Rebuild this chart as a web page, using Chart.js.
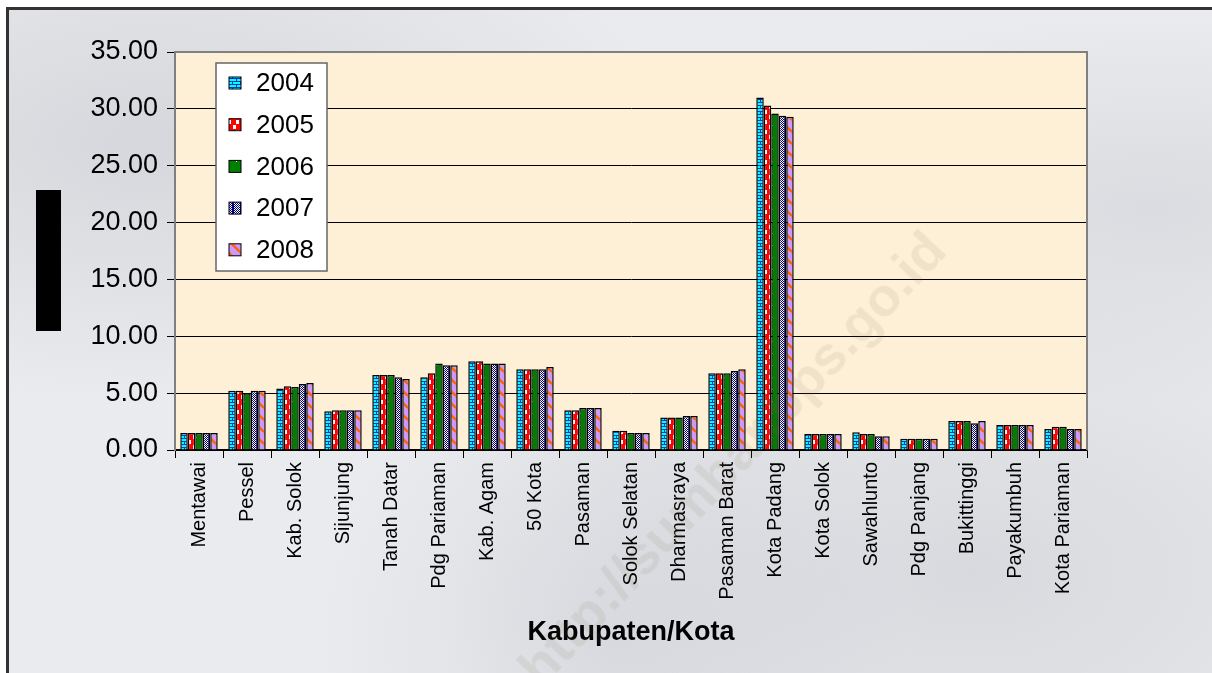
<!DOCTYPE html>
<html lang="id">
<head>
    <meta charset="UTF-8">
    <title>Kabupaten/Kota 2004-2008</title>
    <style>
        * { margin: 0; padding: 0; box-sizing: border-box; }

        body {
            width: 1212px;
            height: 673px;
            background: #fff;
            font-family: "Liberation Sans", Arial, sans-serif;
            overflow: hidden;
        }

        /* marble-like backdrop with a dark frame on top and left */
        .frame {
            position: absolute;
            left: 6px; top: 7px; right: 0; bottom: 0;
            border-top: 3px solid #333;
            border-left: 3px solid #333;
            background:
                radial-gradient(ellipse at 12% 20%, rgba(150,155,165,0.25), transparent 35%),
                radial-gradient(ellipse at 80% 85%, rgba(150,155,165,0.22), transparent 40%),
                radial-gradient(ellipse at 50% 95%, rgba(170,175,185,0.22), transparent 35%),
                radial-gradient(ellipse at 95% 30%, rgba(160,165,175,0.22), transparent 30%),
                #eaebee;
        }

        .chart-box {
            position: absolute;
            left: 0; top: 0;
            width: 1212px;
            height: 673px;
        }

        /* blacked-out y axis title */
        .redact {
            position: absolute;
            left: 36px; top: 190px;
            width: 25px; height: 141px;
            background: #000;
        }

        .watermark {
            position: absolute;
            left: 505px; top: 655px;
            font: bold 54px "Liberation Sans", Arial, sans-serif;
            color: rgba(130, 105, 80, 0.10);
            transform: rotate(-47deg);
            transform-origin: 0 0;
            white-space: nowrap;
            pointer-events: none;
        }
    </style>
</head>
<body>
    <div class="frame"></div>
    <div class="redact"></div>
    <div class="chart-box">
        <canvas id="chart"></canvas>
    </div>
    <div class="watermark">http://sumbar.bps.go.id</div>

    <script src="https://cdn.jsdelivr.net/npm/chart.js"></script>
    <script>
        // Data
        const categories = ["Mentawai", "Pessel", "Kab. Solok", "Sijunjung", "Tanah Datar", "Pdg Pariaman",
            "Kab. Agam", "50 Kota", "Pasaman", "Solok Selatan", "Dharmasraya", "Pasaman Barat",
            "Kota Padang", "Kota Solok", "Sawahlunto", "Pdg Panjang", "Bukittinggi", "Payakumbuh", "Kota Pariaman"];
        const years = ["2004", "2005", "2006", "2007", "2008"];
        const y2004 = [1.5, 5.2, 5.4, 3.4, 6.6, 6.4, 7.8, 7.1, 3.5, 1.7, 2.85, 6.75, 31.0, 1.4, 1.55, 1.0, 2.55, 2.2, 1.85];
        const y2005 = [1.5, 5.2, 5.6, 3.5, 6.6, 6.75, 7.8, 7.1, 3.5, 1.7, 2.85, 6.75, 30.3, 1.4, 1.4, 1.0, 2.55, 2.2, 2.05];
        const y2006 = [1.5, 5.0, 5.55, 3.5, 6.6, 7.6, 7.6, 7.1, 3.7, 1.5, 2.85, 6.75, 29.6, 1.4, 1.4, 1.0, 2.55, 2.2, 2.05];
        const y2007 = [1.5, 5.2, 5.8, 3.5, 6.4, 7.45, 7.6, 7.1, 3.7, 1.5, 3.0, 6.95, 29.4, 1.4, 1.2, 1.0, 2.35, 2.2, 1.85];
        const y2008 = [1.5, 5.2, 5.9, 3.5, 6.25, 7.45, 7.6, 7.3, 3.7, 1.5, 3.0, 7.1, 29.3, 1.4, 1.2, 1.0, 2.55, 2.2, 1.85];
        const yTicks = [0, 5, 10, 15, 20, 25, 30, 35];

        // Small tiled fills that mimic the old spreadsheet patterns
        function makePattern(w, h, draw) {
            const c = document.createElement("canvas");
            c.width = w; c.height = h;
            const g = c.getContext("2d");
            draw(g);
            return g.createPattern(c, "repeat");
        }

        const pat2004 = makePattern(8, 6, g => {
            g.fillStyle = "#00ffff"; g.fillRect(0, 0, 8, 6);
            g.fillStyle = "#0033cc";
            g.fillRect(0, 0, 8, 1);
            g.fillRect(0, 3, 8, 1);
            g.fillRect(4, 0, 1, 3);
            g.fillRect(0, 3, 1, 3);
        });
        const pat2005 = makePattern(8, 10, g => {
            g.fillStyle = "#ff0000"; g.fillRect(0, 0, 8, 10);
            g.fillStyle = "#ffffff";
            g.fillRect(4, 0, 3, 4);
            g.fillRect(1, 5, 3, 4);
        });
        const pat2006 = makePattern(8, 12, g => {
            g.fillStyle = "#008000"; g.fillRect(0, 0, 8, 12);
            g.fillStyle = "#ffffff";
            g.fillRect(4, 5, 1, 1);
        });
        const pat2007 = makePattern(8, 10, g => {
            g.fillStyle = "#ffffff"; g.fillRect(0, 0, 8, 10);
            g.fillStyle = "#000080";
            for (let x = 0; x < 8; x++) {
                for (let y = 0; y < 10; y++) {
                    if ((x + y) % 2 === 0) g.fillRect(x, y, 1, 1);
                }
            }
            g.fillRect(0, 0, 2, 10);
        });
        const pat2008 = makePattern(12, 12, g => {
            g.fillStyle = "#cc99ff"; g.fillRect(0, 0, 12, 12);
            g.strokeStyle = "#ff6600";
            g.lineWidth = 2.5;
            for (let k = -12; k <= 24; k += 12) {
                g.beginPath(); g.moveTo(k, 0); g.lineTo(k + 12, 12); g.stroke();
            }
        });
        const fills = [pat2004, pat2005, pat2006, pat2007, pat2008];
        const series = [y2004, y2005, y2006, y2007, y2008];

        // Cream plot area, grey frame and an in-plot legend
        const plotDecor = {
            id: "plotDecor",
            beforeDraw(chart) {
                const { ctx, chartArea: a } = chart;
                ctx.save();
                ctx.fillStyle = "#fdf0d6";
                ctx.fillRect(a.left, a.top, a.right - a.left, a.bottom - a.top);
                ctx.restore();
            },
            afterDraw(chart) {
                const { ctx, chartArea: a } = chart;
                ctx.save();
                ctx.strokeStyle = "#808080";
                ctx.lineWidth = 2;
                ctx.beginPath();
                ctx.moveTo(a.left, a.top);
                ctx.lineTo(a.right, a.top);
                ctx.lineTo(a.right, a.bottom);
                ctx.stroke();

                // legend
                const lx = 216, ly = 63, lw = 111, lh = 208;
                ctx.fillStyle = "#ffffff";
                ctx.fillRect(lx, ly, lw, lh);
                ctx.strokeStyle = "#666";
                ctx.lineWidth = 1.5;
                ctx.strokeRect(lx, ly, lw, lh);
                ctx.font = "26px 'Liberation Sans', Arial, sans-serif";
                ctx.textBaseline = "middle";
                years.forEach((yr, i) => {
                    const cy = 83 + i * 41.7;
                    ctx.fillStyle = fills[i];
                    ctx.fillRect(229, cy - 6, 12, 12);
                    ctx.strokeStyle = "#000";
                    ctx.lineWidth = 1;
                    ctx.strokeRect(229, cy - 6, 12, 12);
                    ctx.fillStyle = "#000";
                    ctx.fillText(yr, 256, cy + 1);
                });
                ctx.restore();
            }
        };

        const chart = new Chart(document.getElementById("chart"), {
            type: "bar",
            data: {
                labels: categories,
                datasets: years.map((yr, i) => ({
                    label: yr,
                    data: series[i],
                    backgroundColor: fills[i],
                    borderColor: "#000",
                    borderWidth: 1.5,
                    barPercentage: 1.0,
                    categoryPercentage: 0.78
                }))
            },
            options: {
                responsive: true,
                maintainAspectRatio: false,
                animation: false,
                layout: { padding: { left: 0, top: 52, right: 125, bottom: 0 } },
                plugins: {
                    legend: { display: false },
                    tooltip: { enabled: false }
                },
                scales: {
                    x: {
                        afterFit: s => { s.height = 223; },
                        grid: { display: true, drawOnChartArea: false, color: "#000", tickLength: 8, offset: true },
                        border: { color: "#000", width: 1.5 },
                        ticks: {
                            autoSkip: false,
                            minRotation: 90,
                            maxRotation: 90,
                            padding: 4,
                            color: "#000",
                            font: { family: "'Liberation Sans', Arial, sans-serif", size: 20 }
                        },
                        title: {
                            display: true,
                            text: "Kabupaten/Kota",
                            color: "#000",
                            font: { family: "'Liberation Sans', Arial, sans-serif", size: 27, weight: "bold" },
                            padding: { top: 0, bottom: 24 }
                        }
                    },
                    y: {
                        min: 0,
                        max: 35,
                        afterFit: s => { s.width = 175; },
                        afterBuildTicks: s => { s.ticks = yTicks.map(v => ({ value: v })); },
                        grid: { color: "#000", lineWidth: 1, tickLength: 8 },
                        border: { color: "#808080", width: 2 },
                        ticks: {
                            padding: 9,
                            color: "#000",
                            font: { family: "'Liberation Sans', Arial, sans-serif", size: 27 },
                            callback: v => v.toFixed(2)
                        }
                    }
                }
            },
            plugins: [plotDecor]
        });
    </script>
</body>
</html>
